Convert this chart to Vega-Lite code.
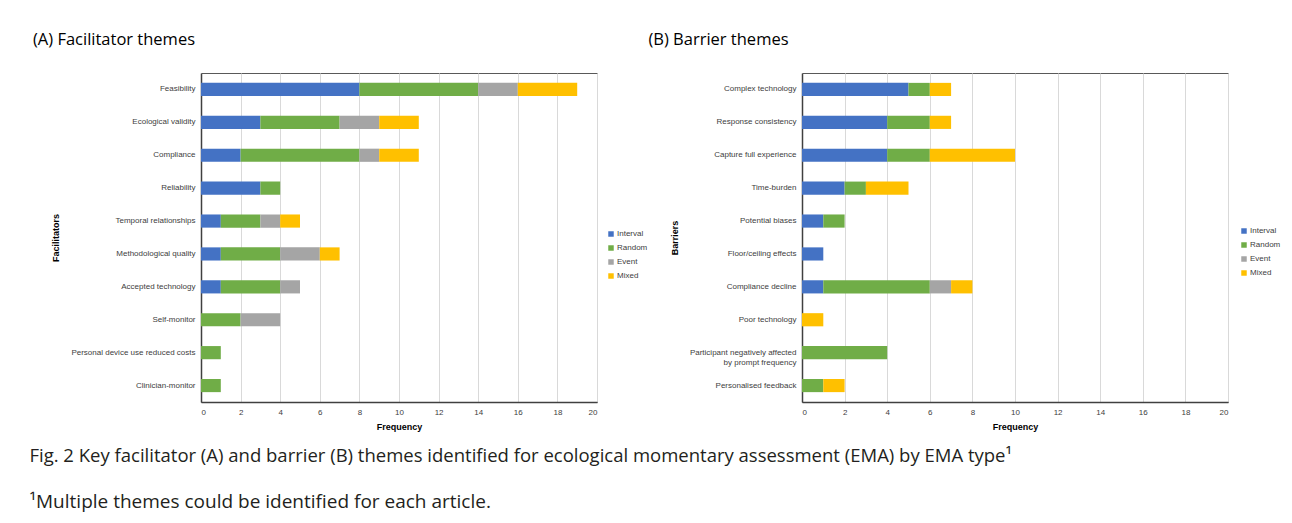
{
  "$schema": "https://vega.github.io/schema/vega-lite/v6.json",
  "background": "white",
  "padding": {"left": 29, "top": 31, "right": 5, "bottom": 5},
  "datasets": {
    "fac": [
      {"theme": "Feasibility", "type": "Interval", "k": 1, "count": 8},
      {"theme": "Feasibility", "type": "Random", "k": 2, "count": 6},
      {"theme": "Feasibility", "type": "Event", "k": 3, "count": 2},
      {"theme": "Feasibility", "type": "Mixed", "k": 4, "count": 3},
      {"theme": "Ecological validity", "type": "Interval", "k": 1, "count": 3},
      {"theme": "Ecological validity", "type": "Random", "k": 2, "count": 4},
      {"theme": "Ecological validity", "type": "Event", "k": 3, "count": 2},
      {"theme": "Ecological validity", "type": "Mixed", "k": 4, "count": 2},
      {"theme": "Compliance", "type": "Interval", "k": 1, "count": 2},
      {"theme": "Compliance", "type": "Random", "k": 2, "count": 6},
      {"theme": "Compliance", "type": "Event", "k": 3, "count": 1},
      {"theme": "Compliance", "type": "Mixed", "k": 4, "count": 2},
      {"theme": "Reliability", "type": "Interval", "k": 1, "count": 3},
      {"theme": "Reliability", "type": "Random", "k": 2, "count": 1},
      {"theme": "Temporal relationships", "type": "Interval", "k": 1, "count": 1},
      {"theme": "Temporal relationships", "type": "Random", "k": 2, "count": 2},
      {"theme": "Temporal relationships", "type": "Event", "k": 3, "count": 1},
      {"theme": "Temporal relationships", "type": "Mixed", "k": 4, "count": 1},
      {"theme": "Methodological quality", "type": "Interval", "k": 1, "count": 1},
      {"theme": "Methodological quality", "type": "Random", "k": 2, "count": 3},
      {"theme": "Methodological quality", "type": "Event", "k": 3, "count": 2},
      {"theme": "Methodological quality", "type": "Mixed", "k": 4, "count": 1},
      {"theme": "Accepted technology", "type": "Interval", "k": 1, "count": 1},
      {"theme": "Accepted technology", "type": "Random", "k": 2, "count": 3},
      {"theme": "Accepted technology", "type": "Event", "k": 3, "count": 1},
      {"theme": "Self-monitor", "type": "Random", "k": 2, "count": 2},
      {"theme": "Self-monitor", "type": "Event", "k": 3, "count": 2},
      {"theme": "Personal device use reduced costs", "type": "Random", "k": 2, "count": 1},
      {"theme": "Clinician-monitor", "type": "Random", "k": 2, "count": 1}
    ],
    "bar": [
      {"theme": "Complex technology", "type": "Interval", "k": 1, "count": 5},
      {"theme": "Complex technology", "type": "Random", "k": 2, "count": 1},
      {"theme": "Complex technology", "type": "Mixed", "k": 4, "count": 1},
      {"theme": "Response consistency", "type": "Interval", "k": 1, "count": 4},
      {"theme": "Response consistency", "type": "Random", "k": 2, "count": 2},
      {"theme": "Response consistency", "type": "Mixed", "k": 4, "count": 1},
      {"theme": "Capture full experience", "type": "Interval", "k": 1, "count": 4},
      {"theme": "Capture full experience", "type": "Random", "k": 2, "count": 2},
      {"theme": "Capture full experience", "type": "Mixed", "k": 4, "count": 4},
      {"theme": "Time-burden", "type": "Interval", "k": 1, "count": 2},
      {"theme": "Time-burden", "type": "Random", "k": 2, "count": 1},
      {"theme": "Time-burden", "type": "Mixed", "k": 4, "count": 2},
      {"theme": "Potential biases", "type": "Interval", "k": 1, "count": 1},
      {"theme": "Potential biases", "type": "Random", "k": 2, "count": 1},
      {"theme": "Floor/ceiling effects", "type": "Interval", "k": 1, "count": 1},
      {"theme": "Compliance decline", "type": "Interval", "k": 1, "count": 1},
      {"theme": "Compliance decline", "type": "Random", "k": 2, "count": 5},
      {"theme": "Compliance decline", "type": "Event", "k": 3, "count": 1},
      {"theme": "Compliance decline", "type": "Mixed", "k": 4, "count": 1},
      {"theme": "Poor technology", "type": "Mixed", "k": 4, "count": 1},
      {"theme": "Participant negatively affected by prompt frequency", "type": "Random", "k": 2, "count": 4},
      {"theme": "Personalised feedback", "type": "Random", "k": 2, "count": 1},
      {"theme": "Personalised feedback", "type": "Mixed", "k": 4, "count": 1}
    ]
  },
  "title": {
    "text": "Fig. 2  Key facilitator (A) and barrier (B) themes identified for ecological momentary assessment (EMA) by EMA type¹",
    "subtitle": "¹Multiple themes could be identified for each article.",
    "orient": "bottom",
    "anchor": "start",
    "frame": "bounds",
    "font": "Open Sans",
    "fontSize": 18.5,
    "fontWeight": "normal",
    "color": "#231f20",
    "subtitleFont": "Open Sans",
    "subtitleFontSize": 19,
    "subtitleColor": "#231f20",
    "subtitlePadding": 28,
    "offset": 15,
    "dx": -3
  },
  "spacing": -2,
  "hconcat": [
    {
      "title": {"text": "(A)  Facilitator themes", "anchor": "start", "frame": "bounds", "dx": -19, "offset": 25},
      "width": 396,
      "height": 329,
      "data": {"name": "fac"},
      "mark": {"type": "bar"},
      "encoding": {
        "y": {
          "field": "theme", "type": "nominal",
          "sort": ["Feasibility", "Ecological validity", "Compliance", "Reliability", "Temporal relationships", "Methodological quality", "Accepted technology", "Self-monitor", "Personal device use reduced costs", "Clinician-monitor"],
          "scale": {"paddingInner": 0.6, "paddingOuter": 0.3},
          "axis": {"title": "Facilitators"}
        },
        "x": {
          "field": "count", "type": "quantitative", "stack": "zero",
          "scale": {"domain": [0, 20]},
          "axis": {"title": "Frequency", "values": [0, 2, 4, 6, 8, 10, 12, 14, 16, 18, 20]}
        },
        "color": {
          "field": "type", "type": "nominal",
          "scale": {"domain": ["Interval", "Random", "Event", "Mixed"], "range": ["#4472c4", "#70ad47", "#a5a5a5", "#ffc000"]},
          "legend": {"orient": "none", "legendX": 406, "legendY": 157}
        },
        "order": {"field": "k", "type": "quantitative", "sort": "ascending"}
      }
    },
    {
      "title": {"text": "(B)  Barrier themes", "anchor": "start", "frame": "bounds", "dx": -22, "offset": 25},
      "width": 426,
      "height": 329,
      "data": {"name": "bar"},
      "mark": {"type": "bar"},
      "encoding": {
        "y": {
          "field": "theme", "type": "nominal",
          "sort": ["Complex technology", "Response consistency", "Capture full experience", "Time-burden", "Potential biases", "Floor/ceiling effects", "Compliance decline", "Poor technology", "Participant negatively affected by prompt frequency", "Personalised feedback"],
          "scale": {"paddingInner": 0.6, "paddingOuter": 0.3},
          "axis": {
            "title": "Barriers",
            "labelExpr": "datum.value == 'Participant negatively affected by prompt frequency' ? ['Participant negatively affected', 'by prompt frequency'] : datum.value"
          }
        },
        "x": {
          "field": "count", "type": "quantitative", "stack": "zero",
          "scale": {"domain": [0, 20]},
          "axis": {"title": "Frequency", "values": [0, 2, 4, 6, 8, 10, 12, 14, 16, 18, 20]}
        },
        "color": {
          "field": "type", "type": "nominal",
          "scale": {"domain": ["Interval", "Random", "Event", "Mixed"], "range": ["#4472c4", "#70ad47", "#a5a5a5", "#ffc000"]},
          "legend": {"orient": "none", "legendX": 438, "legendY": 154}
        },
        "order": {"field": "k", "type": "quantitative", "sort": "ascending"}
      }
    }
  ],
  "resolve": {"scale": {"color": "independent"}},
  "config": {
    "font": "Liberation Sans",
    "view": {"stroke": "#595959", "strokeWidth": 1},
    "axis": {
      "labelFontSize": 8, "labelColor": "#404040", "labelFont": "Liberation Sans",
      "titleFontSize": 9, "titleColor": "#000000", "titleFont": "Liberation Sans", "titleFontWeight": "bold",
      "ticks": false, "domainColor": "#404040", "domainWidth": 1.5,
      "gridColor": "#d9d9d9", "gridWidth": 1
    },
    "axisY": {"grid": false, "labelPadding": 6, "titlePadding": 10, "labelLimit": 300},
    "axisX": {"labelPadding": 6, "titlePadding": 6},
    "legend": {
      "title": null, "labelFontSize": 8, "labelColor": "#404040", "labelFont": "Liberation Sans",
      "symbolType": "square", "symbolSize": 30, "symbolStrokeWidth": 0, "rowPadding": 6, "labelOffset": 2
    },
    "title": {"font": "Open Sans", "fontSize": 16.5, "fontWeight": "normal", "color": "#000000"}
  }
}
